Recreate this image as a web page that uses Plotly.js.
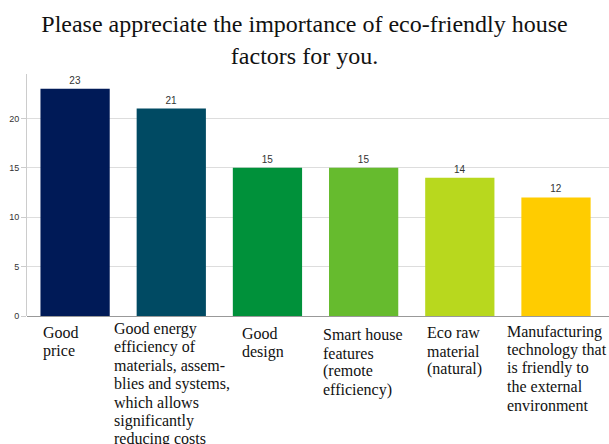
<!DOCTYPE html>
<html>
<head>
<meta charset="utf-8">
<script src="https://cdn.plot.ly/plotly-3.0.1.min.js"></script>
<style>
html,body{margin:0;padding:0;background:#fff;}
#chart{width:609px;height:444px;}
#chart .annotation-text, #chart .annotation-text tspan,
#chart .gtitle, #chart .gtitle tspan { font-family: "Liberation Serif", "Times New Roman", serif !important; }
</style>
</head>
<body>
<div id="chart"></div>
<script>
const categories = ["Good price", "Good energy efficiency", "Good design", "Smart house features", "Eco raw material", "Manufacturing technology"];
const labelLines = [
  ["Good", "price"],
  ["Good energy", "efficiency of", "materials, assem-", "blies and systems,", "which allows", "significantly", "reducing costs"],
  ["Good", "design"],
  ["Smart house", "features", "(remote", "efficiency)"],
  ["Eco raw", "material", "(natural)"],
  ["Manufacturing", "technology that", "is friendly to", "the external", "environment"]
];
const values = [23, 21, 15, 15, 14, 12];
const colors = ["#001a57", "#004a63", "#00913a", "#66bb2e", "#b8d81e", "#ffcc00"];

// layout helpers (pixel offsets of label blocks)
const labelXShift = [-34, -59.5, -27, -42.5, -34.5, -51];
const firstBaseline = [22, 18, 23, 24, 22, 21];
const LABEL_SIZE = 16, LINE_GAP = 18.4;

const trace = {
  type: "bar",
  x: categories,
  y: values,
  marker: {color: colors},
  text: values.map(String),
  textposition: "outside",
  textfont: {family: "Liberation Sans", size: 10, color: "#333"},
  cliponaxis: false,
  hoverinfo: "none"
};

const annotations = [];
categories.forEach((c, i) => {
  labelLines[i].forEach((line, j) => {
    annotations.push({
      x: c, y: 0, xref: "x", yref: "y",
      text: line,
      showarrow: false,
      xanchor: "left", yanchor: "middle", align: "left",
      xshift: labelXShift[i],
      yshift: -(firstBaseline[i] + j * LINE_GAP - 0.3375 * LABEL_SIZE),
      font: {family: "Liberation Serif", size: LABEL_SIZE, color: "#111"}
    });
  });
});

const layout = {
  width: 609, height: 444,
  margin: {l: 27, r: 0, t: 74, b: 128},
  paper_bgcolor: "#fff", plot_bgcolor: "#fff",
  title: {
    text: "Please appreciate the importance of eco-friendly house<br>factors for you.",
    font: {family: "Liberation Serif", size: 24, color: "#111"},
    x: 0.5, xanchor: "center", y: 0.927, yanchor: "top"
  },
  bargap: 0.28,
  showlegend: false,
  xaxis: {showticklabels: false, showgrid: false, zeroline: false, showline: false, ticks: ""},
  yaxis: {
    range: [0, 24.5],
    tickvals: [0, 5, 10, 15, 20],
    ticks: "outside", ticklen: 5, tickcolor: "#ccc",
    tickfont: {family: "Liberation Sans", size: 9, color: "#333"},
    showgrid: true, gridcolor: "#dddddd", gridwidth: 1,
    showline: true, linecolor: "#cccccc", linewidth: 1,
    zeroline: true, zerolinecolor: "#999", zerolinewidth: 1
  },
  annotations: annotations
};

Plotly.newPlot("chart", [trace], layout, {displayModeBar: false, staticPlot: true});
</script>
</body>
</html>
